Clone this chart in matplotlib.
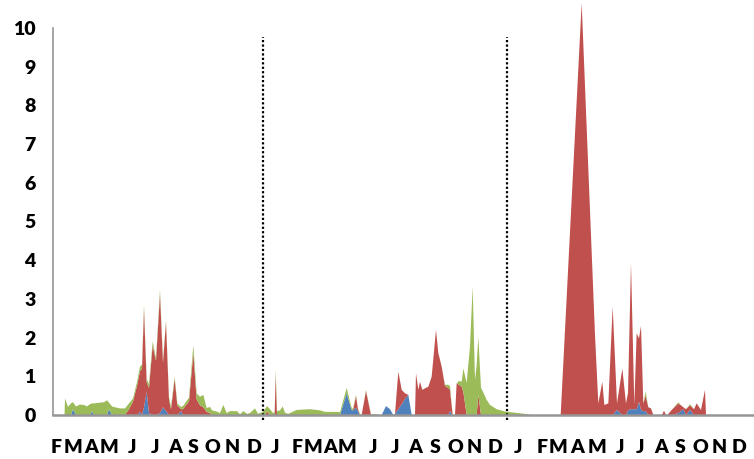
import matplotlib
matplotlib.use("Agg")
import matplotlib.pyplot as plt
import numpy as np

# x: day index counted from 1 January of the first year
days = [66.8, 67.5, 72, 76.5, 79.5, 84, 90, 96, 100.5, 105, 108, 111, 120, 126, 130.5, 133.5,
        138, 142.5, 150, 157.5, 163.5, 169.5, 175.5, 180, 183, 186, 190, 193.5, 199, 204, 210,
        214.5, 219, 223.5, 226.5, 232, 236, 241.5, 244.5, 247.5, 253.5, 260, 265, 270, 275, 280,
        285, 288, 295, 300, 305, 310, 315, 325.5, 330, 335, 340.5, 345, 352.5, 357, 364.5, 367.5,
        370.5, 375, 379.5, 382, 383.5, 385.5, 390, 394, 397.5, 402.5, 415, 435, 450, 457.5, 478.5,
        480, 490, 497.5, 499.5, 504, 507, 510, 512.5, 519, 526.5, 532.5, 537, 542.5, 549, 555,
        560, 562.5, 567.5, 572.5, 577.5, 582.5, 587.5, 592.5, 594, 597.5, 600, 603.5, 607.5,
        612.5, 617.5, 624, 627.5, 632.5, 637.5, 642.5, 645, 649, 652.5, 655, 658.5, 662.5, 665,
        670, 675, 679, 682.5, 685, 687.5, 691.5, 694.5, 700, 705, 715, 727.5, 742.5, 757.5,
        766.5, 811, 842.5, 862.5, 867.5, 873.5, 876.5, 882.5, 889, 895.5, 903.5, 909, 912, 916.5,
        921.5, 925, 928.5, 931.5, 935, 938.5, 942.5, 946.5, 950, 963, 966, 969, 971, 977.5,
        987.5, 991.5, 995, 999, 1005, 1011, 1015, 1021.5, 1027.5, 1029]

blue = [0, 0, 0, 0, 0.15, 0, 0, 0, 0, 0, 0.10, 0, 0, 0, 0, 0.15,
        0, 0, 0, 0, 0, 0, 0, 0.08, 0, 0.20, 0.60, 0.05, 0, 0, 0.05,
        0.20, 0.10, 0, 0, 0, 0, 0.10, 0, 0, 0, 0, 0, 0, 0, 0,
        0, 0, 0, 0, 0, 0, 0, 0, 0, 0, 0, 0, 0, 0, 0, 0,
        0, 0, 0, 0, 0, 0, 0, 0, 0, 0, 0, 0, 0, 0, 0,
        0, 0.56, 0.13, 0.12, 0.19, 0.10, 0, 0, 0, 0, 0, 0, 0, 0.23, 0.15,
        0, 0.03, 0.15, 0.28, 0.42, 0.52, 0, 0, 0, 0, 0, 0, 0,
        0, 0, 0, 0, 0, 0, 0, 0.10, 0, 0, 0, 0, 0, 0,
        0, 0, 0, 0, 0, 0, 0, 0, 0, 0, 0, 0, 0, 0,
        0, 0, 0, 0, 0, 0, 0, 0, 0, 0.13, 0, 0, 0.12, 0.15,
        0.15, 0.15, 0.34, 0.13, 0.10, 0.10, 0, 0, 0, 0, 0, 0, 0, 0,
        0.05, 0.10, 0.15, 0, 0.13, 0, 0, 0, 0, 0]

red = [0, 0, 0, 0, 0, 0, 0, 0, 0, 0, 0, 0, 0, 0, 0, 0,
       0, 0, 0, 0, 0.15, 0.35, 0.75, 1.05, 1.20, 2.55, 0.25, 0.65, 1.80, 1.40, 3.08,
       1.15, 2.30, 0.40, 0.15, 0.93, 0.25, 0.05, 0.15, 0.22, 0.35, 1.60, 0.40, 0.25, 0.20, 0.08,
       0.05, 0, 0, 0, 0, 0, 0, 0, 0, 0, 0, 0, 0, 0, 0, 0,
       0.09, 0, 0, 0, 1.05, 0, 0, 0, 0, 0, 0, 0, 0, 0, 0,
       0, 0, 0, 0, 0.30, 0.05, 0, 0, 0.62, 0, 0, 0, 0, 0, 0,
       0, 0, 0.97, 0.37, 0.14, 0, 0, 0, 1.08, 0.65, 0.86, 0.65, 0.69,
       0.73, 0.99, 2.20, 1.60, 1.25, 0.75, 0.70, 0.55, 0, 0, 0.82, 0.78, 0.73, 0.60,
       0, 0, 0, 0, 0, 0.52, 0, 0, 0, 0, 0, 0, 0, 0,
       0, 0, 10.64, 2.07, 0.30, 0.86, 0.26, 0.30, 2.80, 0.17, 1.20, 0.30, 0.45, 3.77,
       0.11, 1.96, 1.64, 2.17, 0.20, 0.40, 0.20, 0.17, 0, 0, 0.11, 0, 0, 0.13,
       0.25, 0.15, 0.05, 0.15, 0.12, 0.15, 0.30, 0.13, 0.65, 0]

green = [0, 0.43, 0.21, 0.30, 0.18, 0.22, 0.27, 0.26, 0.22, 0.28, 0.20, 0.30, 0.32, 0.33, 0.38, 0.17,
         0.22, 0.20, 0.17, 0.17, 0.15, 0.08, 0.10, 0.12, 0.10, 0.10, 0.08, 0.10, 0.10, 0.07, 0.10,
         0.05, 0.05, 0.07, 0.06, 0.06, 0.05, 0.06, 0.08, 0.08, 0.10, 0.20, 0.16, 0.22, 0.32, 0.10,
         0.16, 0.12, 0.09, 0.05, 0.26, 0.05, 0.10, 0.10, 0.02, 0.10, 0.03, 0.05, 0.17, 0.03, 0.08, 0.15,
         0.14, 0.15, 0.05, 0.08, 0.11, 0.10, 0.12, 0.22, 0.06, 0.03, 0.13, 0.15, 0.12, 0.08, 0.08,
         0.07, 0.14, 0.05, 0.04, 0.03, 0.02, 0.02, 0, 0.03, 0.01, 0.02, 0, 0, 0, 0,
         0, 0, 0, 0, 0, 0, 0, 0, 0, 0, 0, 0, 0,
         0, 0, 0, 0, 0, 0.03, 0.08, 0.10, 0, 0, 0, 0.10, 0.13, 0.60,
         0.83, 1.77, 3.32, 0.90, 1.30, 1.50, 0.70, 0.60, 0.39, 0.26, 0.15, 0.09, 0.06, 0.03,
         0, 0, 0, 0, 0, 0, 0, 0, 0, 0, 0, 0, 0, 0,
         0, 0, 0, 0, 0, 0.10, 0, 0, 0, 0, 0, 0, 0, 0,
         0.03, 0, 0, 0, 0.03, 0, 0, 0, 0, 0]

month_labels = ["F", "M", "A", "M", "J", "J", "A", "S", "O", "N", "D",
                "J", "F", "M", "A", "M", "J", "J", "A", "S", "O", "N", "D",
                "J", "F", "M", "A", "M", "J", "J", "A", "S", "O", "N", "D"]
year_starts = [365, 730]
y_ticks = [0, 1, 2, 3, 4, 5, 6, 7, 8, 9, 10]

# layout (label positions along the day axis)
label_pos = [54, 79.5, 106.5, 133.5, 168, 202.5, 232.5, 259.5, 288, 318, 351,
             382.5, 415.5, 439.5, 465, 490.5, 529.5, 562.5, 592.5, 622.5, 652.5, 681, 712.5,
             747, 783, 807, 835.5, 865.5, 900, 930, 961.5, 990, 1020, 1048.5, 1078.5]

c_blue, c_red, c_green = "#4F81BD", "#C0504D", "#9BBB59"
axis_grey = "#969696"

fig = plt.figure(figsize=(7.54, 4.59), dpi=100)
ax = fig.add_axes([53 / 754, 44 / 459, 701 / 754, 415 / 459])

ax.stackplot(days, blue, red, green, colors=[c_blue, c_red, c_green],
             linewidth=0, antialiased=True)

ax.set_xlim(49.5, 1101)
ax.set_ylim(0, 10.72)

ax.vlines(year_starts, -0.12, 9.77, colors="black", linestyles=(0, (1, 1)),
          linewidth=1.6, clip_on=False, zorder=5)

for s in ["top", "right"]:
    ax.spines[s].set_visible(False)
ax.spines["left"].set_color(axis_grey)
ax.spines["bottom"].set_color(axis_grey)
ax.spines["left"].set_linewidth(1.2)
ax.spines["bottom"].set_linewidth(1.8)
ax.spines["left"].set_bounds(0, 10)
ax.spines["bottom"].set_zorder(6)

ax.set_yticks(y_ticks)
ax.set_yticklabels([str(v) for v in y_ticks])
ax.set_xticks(label_pos)
ax.set_xticklabels(month_labels)

for lab in ax.get_yticklabels() + ax.get_xticklabels():
    lab.set_fontfamily(["Lato", "DejaVu Sans"])
    lab.set_fontweight("heavy")
    lab.set_fontsize(14)
    lab.set_color("black")

ax.tick_params(axis="y", length=0, pad=12.5)
ax.tick_params(axis="x", length=0, pad=17)

fig.savefig("out.png", dpi=100)
